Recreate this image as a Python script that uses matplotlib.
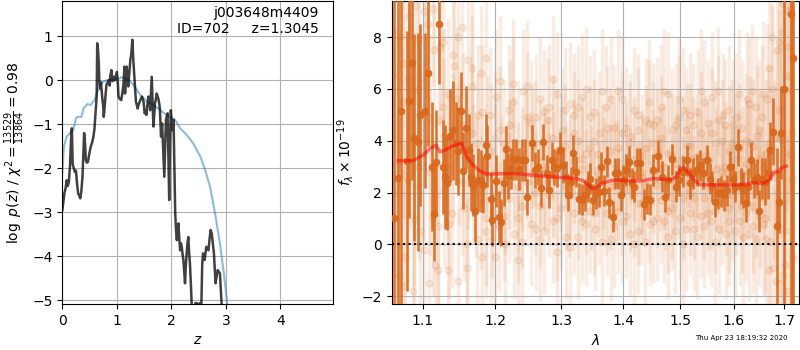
import numpy as np
import matplotlib
matplotlib.use('Agg')
import matplotlib.pyplot as plt
from matplotlib.ticker import FixedLocator, FixedFormatter, NullLocator

# ---- left panel: redshift probability ----
z_pz = [0.00, 0.02, 0.04, 0.06, 0.08, 0.10, 0.12, 0.14, 0.16, 0.175,
        0.19, 0.21, 0.23, 0.25, 0.27, 0.29, 0.31, 0.33, 0.35, 0.37,
        0.39, 0.40, 0.42, 0.43, 0.45, 0.47, 0.49, 0.52, 0.55, 0.57,
        0.59, 0.60, 0.62, 0.63, 0.64, 0.655, 0.67, 0.68, 0.70, 0.71,
        0.73, 0.75, 0.76, 0.78, 0.79, 0.81, 0.83, 0.85, 0.87, 0.88,
        0.90, 0.92, 0.94, 0.96, 0.98, 1.00, 1.02, 1.03, 1.05, 1.08,
        1.10, 1.12, 1.14, 1.15, 1.17, 1.18, 1.20, 1.21, 1.23, 1.25,
        1.26, 1.285, 1.30, 1.32, 1.335, 1.35, 1.37, 1.38, 1.40, 1.43,
        1.46, 1.49, 1.51, 1.53, 1.54, 1.56, 1.58, 1.60, 1.61, 1.63,
        1.64, 1.655, 1.67, 1.69, 1.70, 1.72, 1.73, 1.75, 1.76, 1.78,
        1.79, 1.81, 1.83, 1.85, 1.87, 1.885, 1.90, 1.92, 1.93, 1.945,
        1.96, 1.975, 1.99, 2.005, 2.02, 2.04, 2.055, 2.07, 2.085, 2.10,
        2.115, 2.13, 2.145, 2.16, 2.175, 2.19, 2.205, 2.22, 2.235, 2.25,
        2.265, 2.28, 2.295, 2.31, 2.325, 2.34, 2.36, 2.375, 2.42, 2.44,
        2.47, 2.49, 2.52, 2.55, 2.565, 2.58, 2.61, 2.64, 2.68, 2.70,
        2.72, 2.74, 2.76, 2.78, 2.81, 2.83, 2.85, 2.87, 2.89, 2.92,
        2.95, 3.00]
logpz = [-2.95, -2.75, -2.55, -2.45, -2.27, -2.40, -2.30, -1.96, -1.35, -1.09,
         -1.90, -2.00, -2.08, -2.05, -2.35, -2.57, -2.62, -2.68, -2.50, -2.19,
         -1.55, -1.20, -1.50, -1.81, -1.87, -1.85, -1.70, -1.51, -1.40, -1.28,
         -1.10, -0.90, -0.55, -0.37, 0.84, 0.70, 0.35, -0.07, -0.20, -0.05,
         -0.37, -0.60, -0.83, -0.55, -0.37, -0.10, -0.05, 0.00, -0.12, 0.10,
         0.23, -0.02, 0.08, 0.00, 0.10, 0.19, -0.10, -0.37, -0.42, -0.45,
         -0.30, -0.10, 0.31, -0.30, 0.15, 0.31, -0.05, -0.14, 0.20, 0.50,
         0.54, 0.92, 0.50, 0.08, -0.20, -0.49, -0.58, -0.64, -0.55, -0.45,
         -0.37, -0.49, -0.75, -0.70, -0.79, -0.55, -0.37, -0.55, -0.68, -0.20,
         0.08, -0.50, -1.05, -0.70, -0.52, -0.40, -0.30, -0.38, -0.41, -0.55,
         -0.68, -1.28, -0.98, -1.60, -2.19, -1.50, -0.90, -0.80, -0.75, -1.80,
         -2.72, -1.40, -0.68, -0.95, -1.13, -0.90, -2.00, -3.02, -3.40, -3.63,
         -3.40, -3.25, -3.60, -3.86, -3.70, -3.78, -3.95, -4.08, -4.35, -4.61,
         -4.20, -3.93, -3.70, -3.56, -3.90, -4.16, -4.70, -5.20, -5.40, -5.06,
         -5.06, -5.20, -5.06, -5.07, -4.20, -3.93, -4.08, -3.78, -3.86, -3.60,
         -3.40, -3.48, -3.70, -3.93, -4.61, -4.45, -4.31, -4.35, -4.38, -5.07,
         -5.60, -6.50]

z_prior = [0.00, 0.03, 0.08, 0.14, 0.20, 0.25, 0.28, 0.35, 0.39, 0.46,
           0.52, 0.59, 0.63, 0.69, 0.75, 0.87, 1.00, 1.09, 1.21, 1.30,
           1.43, 1.55, 1.67, 1.79, 1.91, 2.07, 2.16, 2.28, 2.40, 2.53,
           2.62, 2.71, 2.80, 2.89, 2.97, 3.02, 3.08]
logprior = [-2.11, -1.50, -1.28, -1.20, -1.13, -0.86, -0.83, -0.83, -0.64, -0.54,
            -0.56, -0.45, -0.30, -0.10, -0.03, 0.02, 0.02, 0.07, 0.02, -0.10,
            -0.33, -0.48, -0.56, -0.67, -0.79, -0.90, -1.09, -1.24, -1.43, -1.73,
            -2.04, -2.42, -3.02, -3.70, -4.46, -5.03, -5.75]

# ---- right panel: spectrum ----
wave = [1.0625, 1.0680, 1.0714, 1.0789, 1.0823, 1.0859, 1.0890, 1.0934, 1.0964, 1.1030,
        1.1066, 1.1120, 1.1154, 1.1177, 1.1220, 1.1266, 1.1297, 1.1328, 1.1370, 1.1410,
        1.1445, 1.1478, 1.1515, 1.1546, 1.1592, 1.1628, 1.1661, 1.1690, 1.1716, 1.1755,
        1.1799, 1.1835, 1.1869, 1.1890, 1.1937, 1.1960, 1.2016, 1.2054, 1.2086, 1.2125,
        1.2160, 1.2192, 1.2228, 1.2264, 1.2308, 1.2350, 1.2392, 1.2442, 1.2476, 1.2551,
        1.2592, 1.2642, 1.2679, 1.2719, 1.2771, 1.2811, 1.2848, 1.2888, 1.2935, 1.2977,
        1.3029, 1.3071, 1.3107, 1.3150, 1.3186, 1.3230, 1.3282, 1.3325, 1.3374, 1.3417,
        1.3455, 1.3498, 1.3552, 1.3596, 1.3639, 1.3683, 1.3728, 1.3771, 1.3827, 1.3866,
        1.3920, 1.3960, 1.4004, 1.4049, 1.4095, 1.4146, 1.4190, 1.4231, 1.4288, 1.4357,
        1.4414, 1.4461, 1.4518, 1.4597, 1.4668, 1.4726, 1.4774, 1.4856, 1.4917, 1.4976,
        1.5054, 1.5115, 1.5176, 1.5238, 1.5300, 1.5361, 1.5422, 1.5485, 1.5547, 1.5590,
        1.5641, 1.5703, 1.5754, 1.5817, 1.5863, 1.5926, 1.5978, 1.6022, 1.6086, 1.6138,
        1.6183, 1.6230, 1.6281, 1.6334, 1.6399, 1.6446, 1.6498, 1.6546, 1.6612, 1.6666,
        1.6718, 1.6779, 1.6847, 1.6894, 1.6935, 1.7003, 1.7141, 1.7176]
flux = [1.00, 2.55, 5.15, 3.22, 5.53, 7.00, 4.12, 3.96, 5.00, 5.16,
        6.60, 3.00, 1.17, 3.18, 8.50, 2.99, 2.60, 2.35, 4.20, 4.40,
        3.90, 3.60, 5.16, 2.85, 4.50, 3.65, 2.60, 2.30, 1.30, 2.50,
        2.45, 2.30, 3.85, 3.40, 1.76, 0.95, 2.45, 1.05, 0.85, 2.38,
        3.67, 2.64, 2.93, 3.28, 3.28, 2.90, 3.25, 3.25, 1.84, 3.90,
        2.87, 2.99, 2.16, 3.96, 2.74, 2.10, 3.25, 2.99, 2.93, 3.64,
        3.05, 2.60, 1.90, 2.39, 3.51, 2.80, 1.77, 1.73, 1.90, 2.22,
        2.54, 1.73, 1.96, 2.03, 2.97, 2.07, 3.21, 1.62, 1.07, 2.74,
        2.74, 1.90, 2.48, 2.87, 3.19, 2.35, 2.23, 3.13, 3.13, 1.55,
        1.77, 1.73, 2.87, 3.41, 2.61, 1.84, 2.48, 3.28, 2.23, 2.48,
        2.80, 3.25, 2.35, 2.74, 2.87, 3.06, 2.74, 3.25, 2.54, 2.25,
        1.64, 1.97, 2.03, 1.90, 2.09, 3.00, 2.54, 2.23, 3.74, 2.25,
        2.09, 1.58, 2.23, 3.25, 2.48, 2.61, 1.29, 2.54, 2.42, 2.74,
        3.64, 4.35, 0.70, 1.64, 4.31, 6.00, 8.90, 7.18]
err = [15.0, 12.0, 10.0, 5.0, 4.5, 4.5, 4.0, 4.2, 3.5, 3.0,
       2.8, 2.5, 1.8, 2.0, 2.3, 1.8, 2.0, 1.8, 1.8, 1.9,
       1.6, 1.7, 1.5, 1.5, 1.6, 1.4, 1.3, 1.2, 1.2, 1.2,
       1.2, 1.1, 1.2, 1.2, 1.0, 1.0, 1.0, 1.0, 0.9, 0.9,
       0.9, 0.9, 0.8, 0.8, 0.8, 0.8, 0.8, 0.8, 0.7, 0.7,
       0.7, 0.7, 0.7, 0.7, 0.7, 0.7, 0.7, 0.7, 0.7, 0.7,
       0.7, 0.6, 0.6, 0.6, 0.7, 0.6, 0.6, 0.6, 0.6, 0.6,
       0.6, 0.6, 0.6, 0.6, 0.6, 0.6, 0.6, 0.6, 0.6, 0.6,
       0.6, 0.6, 0.6, 0.6, 0.6, 0.6, 0.6, 0.6, 0.6, 0.6,
       0.6, 0.6, 0.6, 0.6, 0.6, 0.6, 0.6, 0.6, 0.6, 0.6,
       0.6, 0.6, 0.6, 0.6, 0.6, 0.6, 0.6, 0.6, 0.6, 0.6,
       0.6, 0.6, 0.6, 0.6, 0.6, 0.6, 0.6, 0.6, 0.7, 0.7,
       0.7, 0.7, 0.7, 0.7, 0.7, 0.7, 0.8, 0.8, 0.9, 1.0,
       1.1, 1.3, 3.0, 1.2, 1.8, 10.0, 12.0, 12.0]

# individual beams (faint)
beam_a = [6.5, -1.2, 5.5, 8.8, 1.0, 3.0, 9.0, -1.5, 7.5, 4.8,
          2.1, 5.8, 7.3, -1.4, 4.6, 3.3, 6.1, 0.2, 5.1, 1.0,
          3.6, -0.5, 4.4, 2.1, 5.2, 0.4, 3.8, 1.5, 4.9, 2.7,
          0.6, 5.6, 3.0, 1.9, 4.1, -0.3, 3.4, 2.2, 5.4, 1.2,
          4.0, 2.9, 0.8, 3.7, 5.1, 1.6, 2.5, 4.5, 0.2, 3.1,
          5.9, 2.0, 1.1, 4.2, 3.3, 0.5, 2.8, 4.8, 1.7, 3.9,
          2.3, 5.3, 0.9, 3.5, 1.4, 4.6, 2.6, 0.0, 3.8, 5.0,
          1.8, 2.9, 4.3, 0.7, 3.2, 5.7, 1.3, 2.4, 4.0, 0.4,
          3.6, 1.9, 4.9, 2.7, 0.3, 3.1, 5.4, 1.5, 2.2, 4.4,
          0.8, 3.5, 6.8, -0.9, 4.1, 7.8, -1.8, 5.9, 9.0, 2.5]
beam_b = [2.0, 8.0, -0.5, 4.6, 9.2, 0.5, 6.3, 2.8, -0.8, 7.6,
          4.2, 0.8, 6.9, 3.5, 1.4, 7.1, 2.7, 5.0, -0.5, 3.9,
          1.3, 5.7, 2.5, 0.0, 4.6, 3.2, 1.0, 5.9, 2.4, 3.8,
          4.9, 1.5, 2.9, 5.3, 0.9, 3.6, 4.4, 0.3, 2.6, 5.0,
          1.8, 3.3, 6.0, 2.2, 0.6, 4.3, 3.0, 1.2, 5.6, 2.4,
          3.7, 0.9, 4.5, 2.1, 5.2, 1.6, 3.4, 0.1, 4.7, 2.8,
          1.0, 4.1, 3.0, 5.8, 1.8, 2.5, 4.9, 3.3, 0.6, 2.0,
          4.6, 3.4, 1.1, 5.5, 2.2, 0.9, 3.9, 4.8, 1.6, 3.0,
          5.2, 2.5, 0.5, 3.7, 4.5, 1.2, 2.8, 5.9, 0.2, 3.3,
          4.9, 1.0, -1.0, 6.0, 2.8, -1.5, 8.2, 0.5, -1.8, 9.1]
beam_c = [4.5, 0.0, 7.0, 2.5, -1.8, 6.0, 3.5, 8.5, 1.0, -1.0,
          7.8, 3.0, 1.2, 5.6, 8.4, 0.0, 4.3, 2.2, 6.6, 0.5,
          5.0, 2.8, 0.7, 3.9, 1.8, 6.2, 2.2, 0.1, 3.5, 4.7,
          2.0, 3.2, 0.5, 4.8, 2.7, 5.8, 1.4, 3.8, -0.1, 3.2,
          5.3, 0.9, 3.5, 1.3, 4.0, 2.7, 5.9, 2.0, 3.6, 0.7,
          2.4, 4.3, 3.1, 0.4, 1.9, 5.0, 2.6, 3.7, 0.8, 4.6,
          3.6, 1.7, 2.2, 0.3, 4.4, 3.1, 1.0, 5.2, 2.9, 3.8,
          0.6, 5.1, 2.6, 3.4, 1.2, 4.3, 2.9, 0.6, 5.0, 2.1,
          1.4, 4.6, 3.3, 0.9, 2.7, 5.6, 3.9, 0.7, 4.2, 1.8,
          3.0, 5.6, 0.1, 2.6, 7.5, 4.1, -1.2, 6.5, 3.5, -0.5]
beam_d = [8.2, 3.2, -1.6, 6.4, 2.2, 7.9, -0.2, 4.9, 9.1, 0.7,
          5.3, -1.0, 3.7, 8.0, 2.4, -0.9, 6.8, 3.9, 1.6, 7.2,
          0.2, 4.1, 6.3, 1.1, 3.1, 5.5, -0.6, 2.9, 6.1, 0.8,
          3.9, 0.2, 5.1, 2.5, 6.4, 1.0, 2.9, 5.2, 1.9, 4.3,
          0.3, 5.7, 2.0, 4.9, 1.2, 3.5, 0.1, 5.3, 2.2, 4.5,
          1.3, 5.6, 2.6, 3.9, 0.0, 4.4, 1.6, 2.3, 5.5, 0.9,
          4.8, 2.9, 5.9, 1.3, 3.4, 0.5, 5.6, 1.8, 4.4, 1.2,
          3.3, 0.3, 5.9, 1.8, 4.7, 2.3, 0.1, 5.9, 2.8, 4.6,
          0.9, 3.9, 2.1, 5.8, 1.5, 4.0, 0.4, 3.8, 5.3, 1.1,
          5.8, 0.2, 3.9, 8.0, -1.4, 5.2, 9.3, -0.8, 7.6, 4.3]
beam_err = [6.0, 5.0, 4.5, 4.0, 3.8, 3.6, 3.4, 3.2, 3.0, 3.0,
            3.0, 2.9, 2.9, 2.8, 2.8, 2.7, 2.7, 2.7, 2.6, 2.6,
            2.6, 2.6, 2.5, 2.5, 2.5, 2.5, 2.5, 2.4, 2.5, 2.4,
            2.4, 2.4, 2.4, 2.4, 2.4, 2.4, 2.4, 2.4, 2.4, 2.4,
            2.4, 2.4, 2.4, 2.4, 2.4, 2.4, 2.4, 2.4, 2.4, 2.4,
            2.4, 2.4, 2.4, 2.4, 2.4, 2.4, 2.4, 2.4, 2.4, 2.4,
            2.4, 2.4, 2.4, 2.4, 2.4, 2.4, 2.4, 2.4, 2.4, 2.4,
            2.4, 2.4, 2.4, 2.4, 2.4, 2.5, 2.4, 2.5, 2.4, 2.5,
            2.5, 2.5, 2.5, 2.5, 2.6, 2.6, 2.6, 2.6, 2.7, 2.7,
            2.8, 2.9, 3.0, 3.2, 3.5, 3.9, 4.5, 5.2, 6.0, 7.0]

# smooth model
wave_model = [1.0682, 1.0876, 1.1008, 1.1097, 1.1178, 1.1232, 1.1299, 1.1391, 1.1482, 1.1529,
              1.1599, 1.1691, 1.1786, 1.1881, 1.2025, 1.2268, 1.2517, 1.2771, 1.3029, 1.3241,
              1.3347, 1.3427, 1.3508, 1.3564, 1.3646, 1.3783, 1.3895, 1.4119, 1.4319, 1.4522,
              1.4698, 1.4817, 1.4937, 1.4996, 1.5068, 1.5146, 1.5238, 1.5361, 1.5609, 1.5926,
              1.6250, 1.6413, 1.6512, 1.6612, 1.6713, 1.6779, 1.6881, 1.6950, 1.7038]
flux_model = [3.23, 3.23, 3.45, 3.70, 3.83, 3.57, 3.63, 3.78, 3.86, 3.91,
              3.37, 3.05, 2.83, 2.72, 2.72, 2.74, 2.68, 2.62, 2.58, 2.54,
              2.45, 2.30, 2.13, 2.20, 2.35, 2.45, 2.49, 2.45, 2.45, 2.54,
              2.51, 2.49, 2.62, 2.90, 2.96, 2.77, 2.51, 2.30, 2.30, 2.29,
              2.32, 2.39, 2.35, 2.39, 2.51, 2.77, 2.81, 2.96, 3.02]

xticks = [1.1, 1.2, 1.3, 1.4, 1.5, 1.6, 1.7]
xtick_labels = ['1.1', '1.2', '1.3', '1.4', '1.5', '1.6', '1.7']

spec_color = '#d8691d'

fig = plt.figure(figsize=(8, 3.5), dpi=100)

ax = fig.add_axes([0.0779, 0.1314, 0.3388, 0.8657])
ax.plot(z_prior, logprior, color='tab:blue', alpha=0.5, lw=1.5)
ax.plot(z_pz, logpz, color='k', alpha=0.75, lw=1.8)
ax.set_xlim(0, 4.97)
ax.set_ylim(-5.08, 1.8)
ax.grid()
ax.set_xlabel('$z$')
ax.set_ylabel(r'$\log\ p(z)$' + ' / ' + r'$\chi^2=\frac{13529}{13864}=0.98$')
ax.text(0.945, 0.985, 'j003648m4409\nID=702     z=1.3045', transform=ax.transAxes,
        ha='right', va='top', fontsize=10)

bx = fig.add_axes([0.4896, 0.1314, 0.5095, 0.8657])
faint_ends = [(1.062, 1.716), (1.0635, 1.7145), (1.0605, 1.7175), (1.0615, 1.7155)]
for fl, (w0, w1) in zip((beam_a, beam_b, beam_c, beam_d), faint_ends):
    wb = np.linspace(w0, w1, len(fl))
    bx.errorbar(wb, fl, yerr=beam_err, fmt='o', color=spec_color, alpha=0.12,
                ms=5, elinewidth=2.5, capsize=0, zorder=1)
bx.errorbar(wave, flux, yerr=err, fmt='o', color=spec_color, alpha=0.9,
            ms=4.5, elinewidth=1.9, capsize=0, zorder=3)
bx.plot(wave_model, flux_model, color='red', alpha=0.5, lw=2.5, zorder=4)
bx.axhline(0, color='k', ls=':', lw=1.5, zorder=5)
bx.set_xscale('log')
bx.xaxis.set_major_locator(FixedLocator(xticks))
bx.xaxis.set_major_formatter(FixedFormatter(xtick_labels))
bx.xaxis.set_minor_locator(NullLocator())
bx.set_xlim(1.0597, 1.7309)
bx.set_ylim(-2.3, 9.39)
bx.grid()
bx.set_xlabel(r'$\lambda$')
bx.set_ylabel(r'$f_\lambda\times10^{-19}$')

fig.text(0.984, 0.025, 'Thu Apr 23 18:19:32 2020', ha='right', va='bottom', fontsize=5)

fig.savefig('out.png', dpi=100)
